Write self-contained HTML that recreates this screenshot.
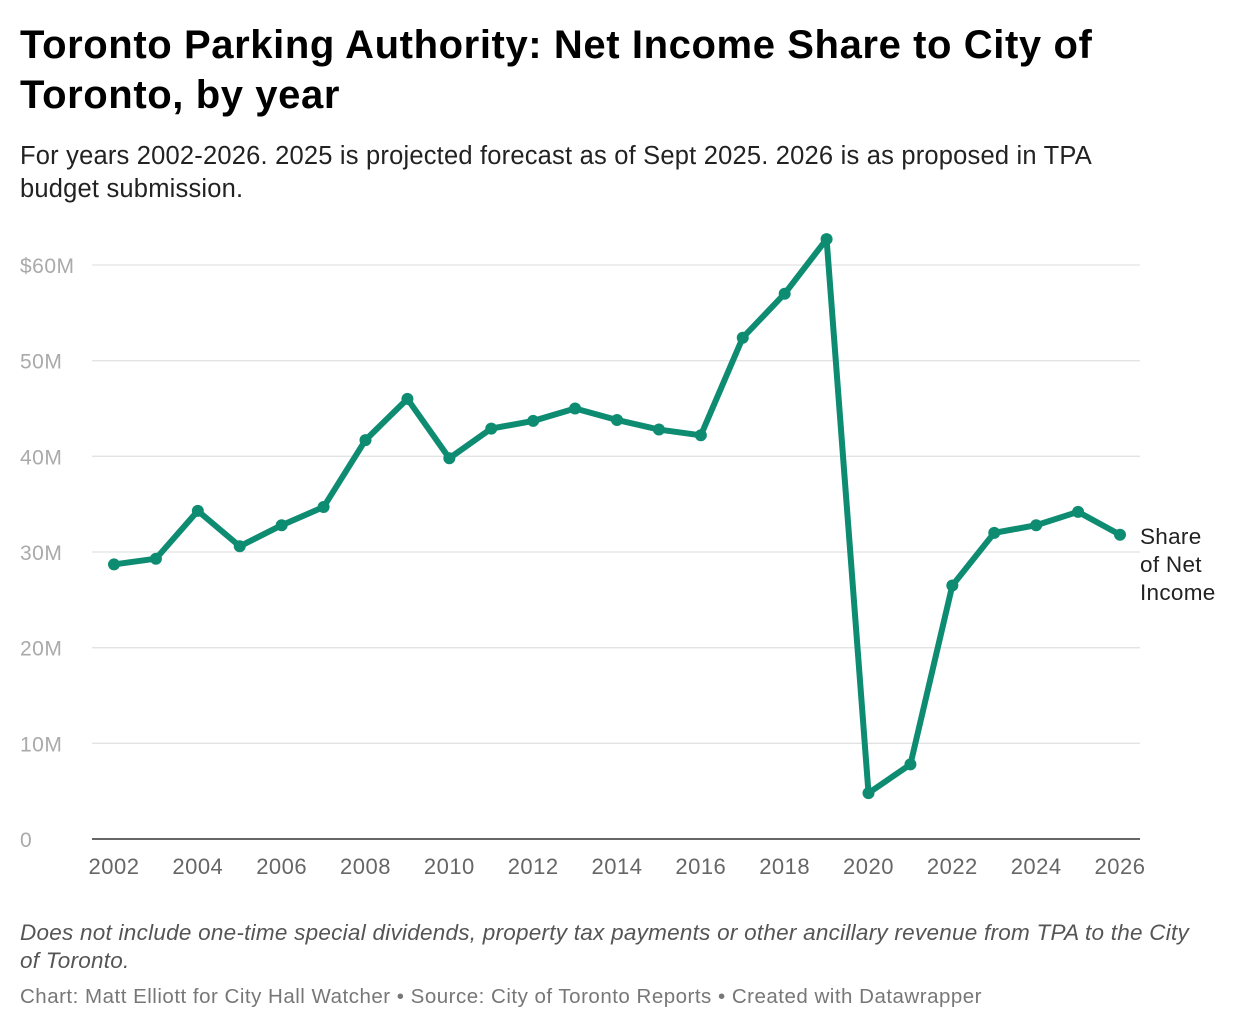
<!DOCTYPE html>
<html><head><meta charset="utf-8"><style>
body{margin:0;background:#fff;width:1240px;height:1032px;overflow:hidden;font-family:"Liberation Sans",Arial,sans-serif}
.t{position:absolute;left:20px;top:20px;font-size:40px;font-weight:bold;line-height:50px;color:#000;letter-spacing:0.6px}
.s{position:absolute;left:20px;top:140px;font-size:25.5px;line-height:33px;color:#222;width:1150px;letter-spacing:0.2px}
.n{position:absolute;left:20px;top:919px;font-size:22.5px;line-height:28px;color:#555;font-style:italic;width:1192px;letter-spacing:0.25px}
.c{position:absolute;left:20px;top:985px;font-size:20.5px;color:#777;letter-spacing:0.5px}
</style></head><body>
<div class="t">Toronto Parking Authority: Net Income Share to City of<br>Toronto, by year</div>
<div class="s">For years 2002-2026. 2025 is projected forecast as of Sept 2025. 2026 is as proposed in TPA budget submission.</div>
<svg id="ch" width="1240" height="1032" style="position:absolute;left:0;top:0"></svg>
<div class="n">Does not include one-time special dividends, property tax payments or other ancillary revenue from TPA to the City of Toronto.</div>
<div class="c">Chart: Matt Elliott for City Hall Watcher • Source: City of Toronto Reports • Created with Datawrapper</div>
<script>
const years=[2002,2003,2004,2005,2006,2007,2008,2009,2010,2011,2012,2013,2014,2015,2016,2017,2018,2019,2020,2021,2022,2023,2024,2025,2026];
const values=[28.7,29.3,34.3,30.6,32.8,34.7,41.7,46.0,39.8,42.9,43.7,45.0,43.8,42.8,42.2,52.4,57.0,62.7,4.8,7.8,26.5,32.0,32.8,34.2,31.8];
const yTicks=[0,10,20,30,40,50,60];
const yTickLabels=["0","10M","20M","30M","40M","50M","$60M"];
const xTicks=[2002,2004,2006,2008,2010,2012,2014,2016,2018,2020,2022,2024,2026];
const svg=document.getElementById('ch');const NS="http://www.w3.org/2000/svg";
const x=v=>114+(v-2002)*(1120-114)/24;
const y=v=>839-v*(839-265)/60;
function mk(t,a){const e=document.createElementNS(NS,t);for(const k in a)e.setAttribute(k,a[k]);svg.appendChild(e);return e;}
yTicks.forEach((v,i)=>{
 if(v>0){const g=mk('line',{x1:92,x2:1140,y1:y(v),y2:y(v),stroke:'#e3e3e3','stroke-width':1.3});
 
 }
 const t=mk('text',{x:20,y:y(v)+8,'font-size':21,fill:'#aaa','letter-spacing':0.5});t.textContent=yTickLabels[i];
 
 
});
const ax=mk('line',{x1:92,x2:1140,y1:839,y2:839,stroke:'#333','stroke-width':1.5});


xTicks.forEach(v=>{const t=mk('text',{x:x(v),y:874,'font-size':22,fill:'#666','text-anchor':'middle','letter-spacing':0.5});t.textContent=v;
 
 });
const p=mk('polyline',{points:years.map((yr,i)=>x(yr)+','+y(values[i])).join(' '),fill:'none',stroke:'#0e8c72','stroke-width':6,'stroke-linejoin':'round'});


years.forEach((yr,i)=>{const c=mk('circle',{cx:x(yr),cy:y(values[i]),r:6,fill:'#0e8c72'});
 
 });
["Share","of Net","Income"].forEach((s,i)=>{const t=mk('text',{x:1140,y:544+i*28,'font-size':22.5,fill:'#222','letter-spacing':0.3});t.textContent=s;
 
 });
</script>
</body></html>
